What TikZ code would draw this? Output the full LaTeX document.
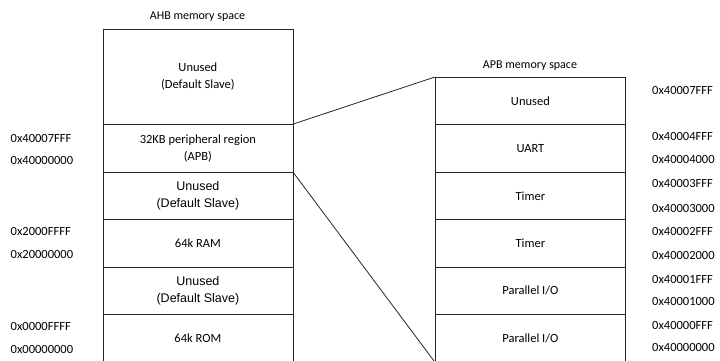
\documentclass[tikz,border=0pt]{standalone}
\usepackage{fontspec}
\setmainfont{Carlito}
\newfontfamily\arialf{Liberation Sans}
\begin{document}
\begin{tikzpicture}[x=1pt,y=-1pt,
  mem/.style={draw=black!85,line width=0.8pt,rectangle,inner sep=0pt,anchor=north west,
    minimum width=190pt,align=center,font=\fontsize{12.5}{17}\selectfont},
  addr/.style={anchor=west,inner sep=0pt,font=\fontsize{12.5}{15}\selectfont},
  ttl/.style={inner sep=0pt,font=\fontsize{12}{15}\selectfont},
  link/.style={draw=black!85,line width=0.8pt}]
\useasboundingbox (0,0) rectangle (720,360);
% AHB memory map
\node[ttl] (ahbt) at (197.5,17) {AHB memory space};
\node[mem,minimum height=95pt] (a0) at (102.5,29) {Unused\\(Default Slave)};
\node[mem,minimum height=47.7pt] (a1) at (102.5,124) {32KB peripheral region\\(APB)};
\node[mem,minimum height=47.3pt,font=\arialf\fontsize{12.5}{17}\selectfont] (a2) at (102.5,171.7) {Unused\\(Default Slave)};
\node[mem,minimum height=47.7pt] (a3) at (102.5,219) {64k RAM};
\node[mem,minimum height=47.6pt,font=\arialf\fontsize{12.5}{17}\selectfont] (a4) at (102.5,266.7) {Unused\\(Default Slave)};
\node[mem,minimum height=47.2pt] (a5) at (102.5,314.3) {64k ROM};
% AHB addresses
\node[addr] (la1) at (10.5,138) {0x40007FFF};
\node[addr] (la2) at (10.5,160.5) {0x40000000};
\node[addr] (la3) at (10.5,231.5) {0x2000FFFF};
\node[addr] (la4) at (10.5,254) {0x20000000};
\node[addr] (la5) at (10.5,326.5) {0x0000FFFF};
\node[addr] (la6) at (10.5,349.3) {0x00000000};
% APB memory map
\node[ttl] (apbt) at (530,66) {APB memory space};
\node[mem,minimum height=47pt] (b0) at (435,77) {Unused};
\node[mem,minimum height=47.7pt] (b1) at (435,124) {UART};
\node[mem,minimum height=47.3pt] (b2) at (435,171.7) {Timer};
\node[mem,minimum height=47.7pt] (b3) at (435,219) {Timer};
\node[mem,minimum height=47.3pt] (b4) at (435,266.7) {Parallel I/O};
\node[mem,minimum height=47.5pt] (b5) at (435,314) {Parallel I/O};
% APB addresses
\node[addr] (lb1) at (652,90) {0x40007FFF};
\node[addr] (lb2) at (652,136.7) {0x40004FFF};
\node[addr] (lb3) at (652,159.3) {0x40004000};
\node[addr] (lb4) at (652,183.3) {0x40003FFF};
\node[addr] (lb5) at (652,208.3) {0x40003000};
\node[addr] (lb6) at (652,231.7) {0x40002FFF};
\node[addr] (lb7) at (652,255) {0x40002000};
\node[addr] (lb8) at (652,279) {0x40001FFF};
\node[addr] (lb9) at (652,301.7) {0x40001000};
\node[addr] (lb10) at (652,325) {0x40000FFF};
\node[addr] (lb11) at (652,347.7) {0x40000000};
% zoom lines
\draw[link] (a1.north east) -- (b0.north west);
\draw[link] (a1.south east) -- (b5.south west);
\end{tikzpicture}
\end{document}
